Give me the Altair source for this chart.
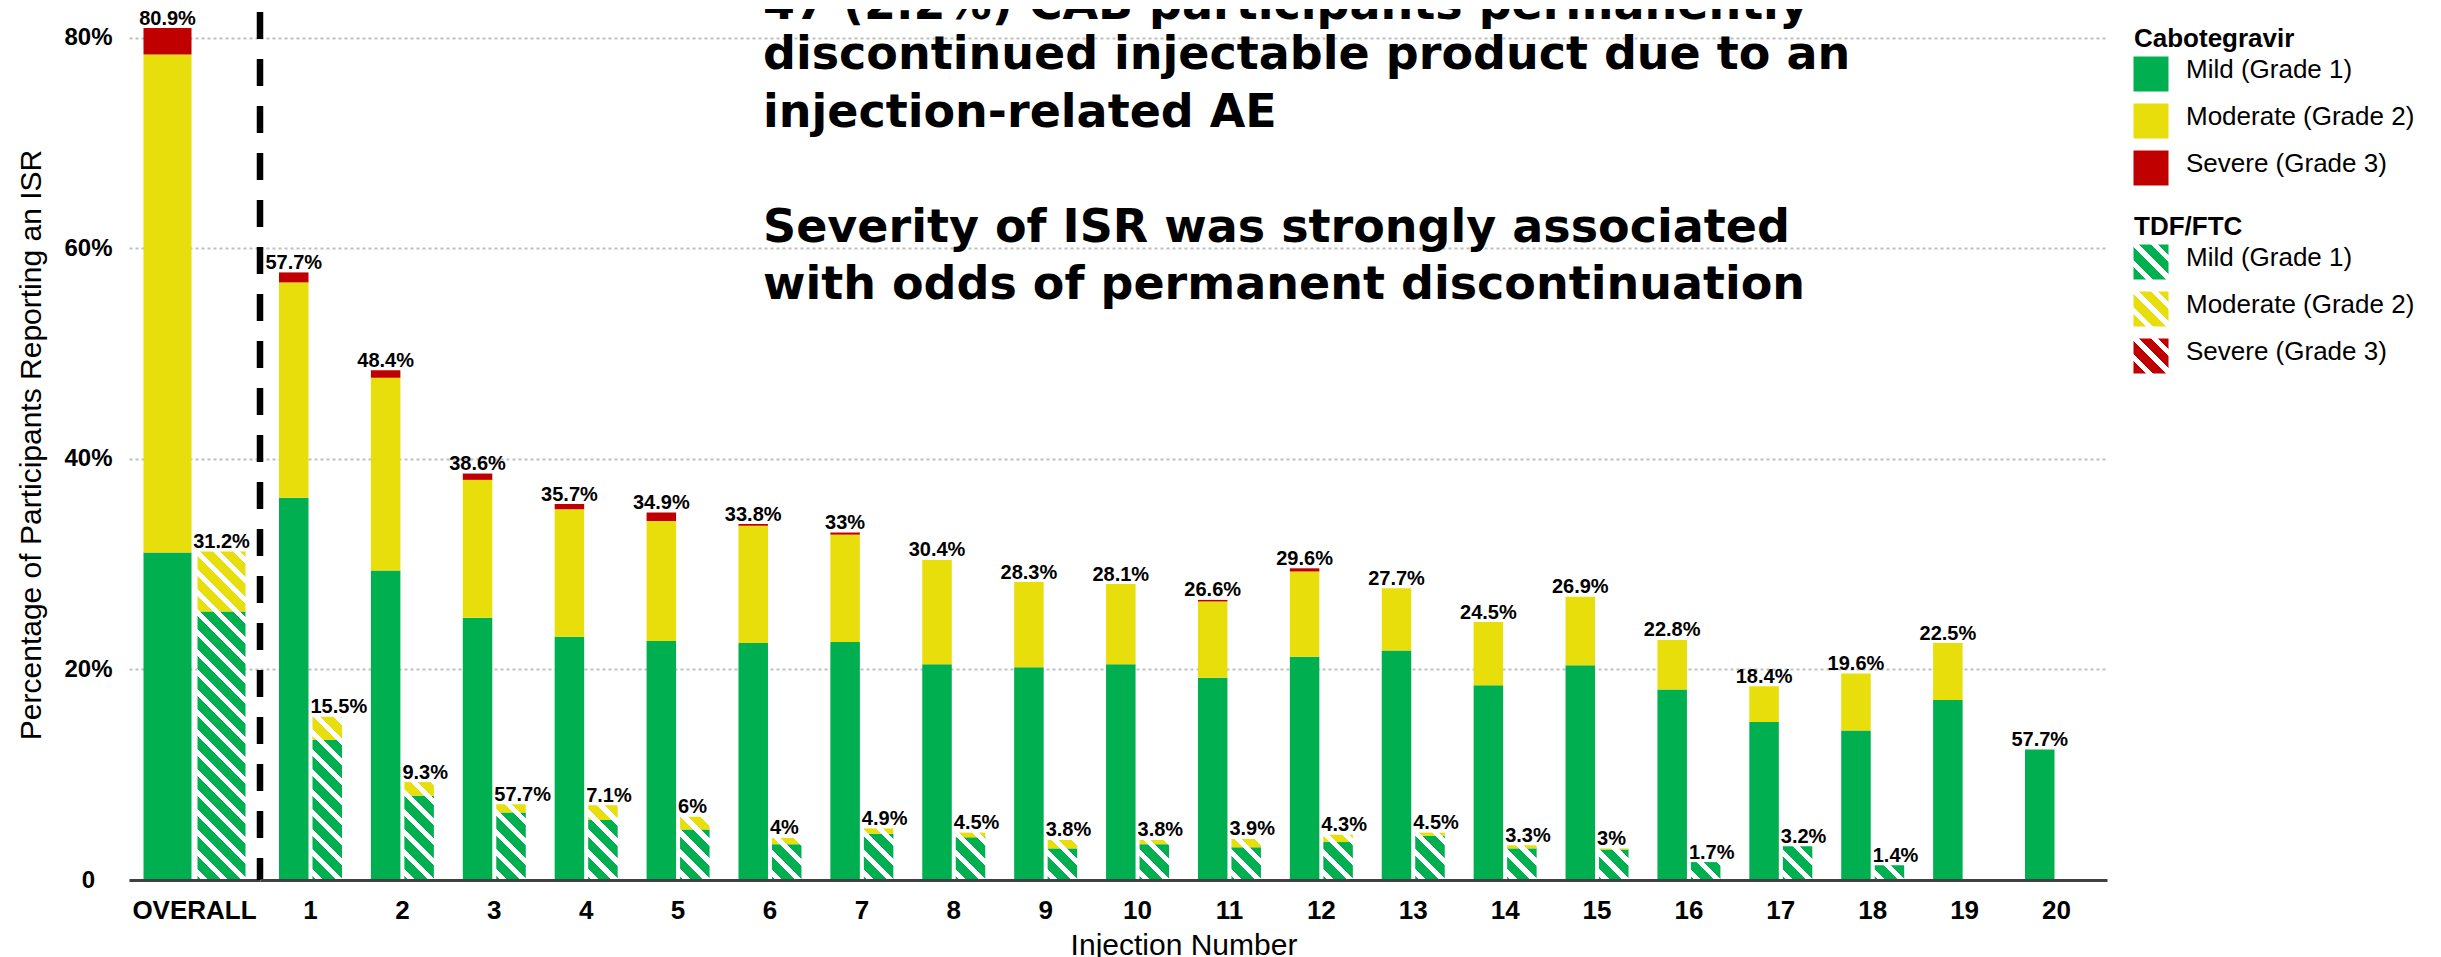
import altair as alt

# ---------------- data ----------------
categories = ["OVERALL", "1", "2", "3", "4", "5", "6", "7", "8", "9", "10",
              "11", "12", "13", "14", "15", "16", "17", "18", "19", "20"]

cab_mild = [31.1, 36.3, 29.4, 24.9, 23.1, 22.7, 22.5, 22.6, 20.5, 20.2, 20.5,
            19.2, 21.2, 21.8, 18.5, 20.4, 18.1, 15.0, 14.2, 17.1, 12.4]
cab_moderate = [47.3, 20.45, 18.3, 13.1, 12.1, 11.4, 11.15, 10.2, 9.9, 8.1, 7.6,
                7.25, 8.1, 5.9, 6.0, 6.5, 4.7, 3.4, 5.4, 5.4, 0.0]
cab_severe = [2.5, 0.95, 0.7, 0.6, 0.5, 0.8, 0.15, 0.2, 0.0, 0.0, 0.0,
              0.15, 0.3, 0.0, 0.0, 0.0, 0.0, 0.0, 0.0, 0.0, 0.0]

tdf_mild = [25.5, 13.3, 8.0, 6.4, 5.7, 4.8, 3.4, 4.4, 4.05, 3.0, 3.4,
            3.1, 3.6, 4.2, 3.0, 2.9, 1.7, 3.2, 1.4, 0.0, 0.0]
tdf_moderate = [5.7, 2.2, 1.3, 0.8, 1.4, 1.2, 0.6, 0.5, 0.45, 0.8, 0.4,
                0.8, 0.7, 0.3, 0.3, 0.1, 0.0, 0.0, 0.0, 0.0, 0.0]
tdf_severe = [0.0, 0.0, 0.0, 0.0, 0.0, 0.0, 0.0, 0.0, 0.0, 0.0, 0.0,
              0.0, 0.0, 0.0, 0.0, 0.0, 0.0, 0.0, 0.0, 0.0, 0.0]

cab_labels = ["80.9%", "57.7%", "48.4%", "38.6%", "35.7%", "34.9%", "33.8%", "33%",
              "30.4%", "28.3%", "28.1%", "26.6%", "29.6%", "27.7%", "24.5%", "26.9%",
              "22.8%", "18.4%", "19.6%", "22.5%", "57.7%"]
tdf_labels = ["31.2%", "15.5%", "9.3%", "57.7%", "7.1%", "6%", "4%", "4.9%",
              "4.5%", "3.8%", "3.8%", "3.9%", "4.3%", "4.5%", "3.3%", "3%",
              "1.7%", "3.2%", "1.4%", "", ""]

severity_names = ["Mild (Grade 1)", "Moderate (Grade 2)", "Severe (Grade 3)"]
drug_names = ["Cabotegravir", "TDF/FTC"]
y_ticks = [0, 20, 40, 60, 80]

y_title = "Percentage of Participants Reporting an ISR"
x_title = "Injection Number"
note_first = "47 (2.2%) CAB participants permanently"
note_para1 = ["discontinued injectable product due to an",
              "injection-related AE"]
note_para2 = ["Severity of ISR was strongly associated",
              "with odds of permanent discontinuation"]

# ---------------- style ----------------
FONT = "Liberation Sans"
GREEN, YELLOW, RED = "#00B050", "#E8DE0C", "#C00000"
SEV_COLORS = [GREEN, YELLOW, RED]
GRID = dict(gridColor="#c0c0c0", gridDash=[3, 3], gridWidth=2)

PLOT_H = 871
PX = 10.53
Y_MAX = PLOT_H / PX
LEFT_W = 131
RIGHT_W = 1847
LEG_W = 320
NOTE_LH = 57.5

L_PO = 0.142
L_OFF_PI = 0.111
R_PI = 0.3145
R_PO = 0.2067
R_OFF_PI = 0.119

left_band = LEFT_W / (1 + 2 * L_PO)
left_bar = left_band / (2 - L_OFF_PI) * (1 - L_OFF_PI)
right_step = RIGHT_W / (20 - R_PI + 2 * R_PO)
right_band = right_step * (1 - R_PI)
right_bar = right_band / (2 - R_OFF_PI) * (1 - R_OFF_PI)

PERIOD = 20.0
WHITE_FRAC = 0.36


def hatch(color, w, h, phase0):
    """Diagonal stripes as a hard-stop linear gradient sized to a w x h box."""
    L = w + h
    a = L / (w * w + h * h)
    g_len = PERIOD * (1 - WHITE_FRAC)
    ph = phase0 % PERIOD
    cur = color if ph < g_len else "#ffffff"
    stops = [{"offset": 0.0, "color": cur}]
    d = 0.0
    while True:
        if ph < g_len:
            step, nxt, ph_next = g_len - ph, "#ffffff", g_len
        else:
            step, nxt, ph_next = PERIOD - ph, color, 0.0
        d += step
        if d >= L - 1e-9:
            break
        o = round(d / L, 5)
        stops.append({"offset": o, "color": cur})
        stops.append({"offset": o, "color": nxt})
        cur, ph = nxt, ph_next
    stops.append({"offset": 1.0, "color": cur})
    return {"gradient": "linear", "x1": 0, "y1": 1,
            "x2": round(a * w, 6), "y2": round(1 - a * h, 6), "stops": stops}


def bar_records(indices, bar_w):
    recs = []
    for i in indices:
        for drug, series in (("CAB", (cab_mild, cab_moderate, cab_severe)),
                             ("TDF", (tdf_mild, tdf_moderate, tdf_severe))):
            base = 0.0
            for sev, vals, color in zip(severity_names, series, SEV_COLORS):
                v = vals[i]
                if v <= 0:
                    continue
                top = base + v
                if drug == "CAB":
                    fill = color
                else:
                    fill = hatch(color, bar_w, v * PX, -(Y_MAX - base) * PX)
                recs.append({"cat": categories[i], "drug": drug, "sev": sev,
                             "start": base, "end": top, "fill": fill})
                base = top
    return recs


def label_records(indices, drug):
    recs = []
    for i in indices:
        if drug == "CAB":
            total = cab_mild[i] + cab_moderate[i] + cab_severe[i]
            lab = cab_labels[i]
        else:
            total = tdf_mild[i] + tdf_moderate[i] + tdf_severe[i]
            lab = tdf_labels[i]
        if lab:
            recs.append({"cat": categories[i], "drug": drug, "total": total, "label": lab})
    return recs


y_scale = alt.Scale(domain=[0, Y_MAX], nice=False, zero=True)

x_axis_common = dict(labelAngle=0, labelFontSize=26, labelFontWeight="bold",
                     labelColor="black", labelPadding=17, ticks=False,
                     domainColor="#404040", domainWidth=3, grid=False, zindex=1)

y_axis_left = alt.Axis(values=y_ticks,
                       labelExpr="datum.value == 0 ? '0' : datum.value + '%'",
                       labelAlign="center", labelPadding=41, labelFontSize=24,
                       labelFontWeight="bold", labelColor="black", ticks=False,
                       domain=False, grid=True, title=y_title, titleFontSize=30,
                       titleFontWeight="normal", titleColor="black", titlePadding=17,
                       **GRID)
y_axis_right = alt.Axis(values=y_ticks, labels=False, ticks=False, domain=False,
                        grid=True, title=None, **GRID)


def build_panel(indices, width, x_scale, off_scale, x_axis, y_axis, bar_w,
                tdf_align, tdf_dx, extra=()):
    X = alt.X("cat:N", scale=x_scale, axis=x_axis)
    XO = alt.XOffset("drug:N", scale=off_scale)
    bars = alt.Chart(alt.Data(values=bar_records(indices, bar_w))).mark_bar().encode(
        x=X, xOffset=XO,
        y=alt.Y("start:Q", scale=y_scale, axis=y_axis),
        y2="end:Q",
        fill=alt.Fill("fill:N", scale=None),
    )
    txt = dict(font=FONT, fontSize=20, fontWeight="bold", color="black",
               baseline="alphabetic", dy=-3.5)
    cab_t = alt.Chart(alt.Data(values=label_records(indices, "CAB"))).mark_text(
        align="center", **txt).encode(
        x=X, xOffset=XO, y=alt.Y("total:Q", scale=y_scale, axis=y_axis),
        text="label:N")
    tdf_t = alt.Chart(alt.Data(values=label_records(indices, "TDF"))).mark_text(
        align=tdf_align, dx=tdf_dx, **txt).encode(
        x=X, xOffset=XO, y=alt.Y("total:Q", scale=y_scale, axis=y_axis),
        text="label:N")
    return alt.layer(bars, cab_t, tdf_t, *extra).properties(width=width, height=PLOT_H)


left = build_panel(
    [0], LEFT_W,
    alt.Scale(domain=categories[:1], paddingInner=0, paddingOuter=L_PO),
    alt.Scale(domain=["CAB", "TDF"], paddingInner=L_OFF_PI, paddingOuter=0),
    alt.Axis(title=None, **x_axis_common), y_axis_left, left_bar, "center", 0)

one = alt.Data(values=[{"k": 1}])
divider = alt.Chart(one).mark_rule(color="black", strokeWidth=6.5,
                                   strokeDash=[27, 20]).encode(
    x=alt.value(0), y=alt.value(3), y2=alt.value(PLOT_H))

note_style = dict(align="left", baseline="alphabetic", font="DejaVu Sans",
                  fontWeight="bold", fontSize=46, lineHeight=NOTE_LH,
                  color="black", clip=True)
note1 = alt.Chart(one).mark_text(text=note_first, **note_style).encode(
    x=alt.value(503), y=alt.datum((PLOT_H - 10) / PX))
note2 = alt.Chart(one).mark_text(text=note_para1, **note_style).encode(
    x=alt.value(503), y=alt.datum((PLOT_H - 60) / PX))
note3 = alt.Chart(one).mark_text(text=note_para2, **note_style).encode(
    x=alt.value(503), y=alt.datum((PLOT_H - 60 - 3 * NOTE_LH) / PX))

right = build_panel(
    list(range(1, 21)), RIGHT_W,
    alt.Scale(domain=categories[1:], paddingInner=R_PI, paddingOuter=R_PO),
    alt.Scale(domain=["CAB", "TDF"], paddingInner=R_OFF_PI, paddingOuter=0),
    alt.Axis(title=x_title, titleFontSize=30, titleFontWeight="normal",
             titleColor="black", titlePadding=7, **x_axis_common),
    y_axis_right, right_bar, "left", -(right_bar / 2 + 2),
    extra=(divider, note1, note2, note3))

# ---------------- legend panel ----------------
SW = 35
leg_titles = [{"row": 0.26, "text": drug_names[0]}, {"row": 4.25, "text": drug_names[1]}]
leg_items = []
for base_row, hatched in ((1, False), (5, True)):
    for k, (name, color) in enumerate(zip(severity_names, SEV_COLORS)):
        leg_items.append({"row": base_row + k, "label": name,
                          "fill": hatch(color, SW, SW, 0.0) if hatched else color})

leg_y = alt.Scale(domain=[-18 / 47, (PLOT_H - 18) / 47], reverse=True, nice=False, zero=False)
sw = alt.Chart(alt.Data(values=leg_items)).mark_square(size=SW * SW, opacity=1).encode(
    x=alt.value(44), y=alt.Y("row:Q", scale=leg_y, axis=None),
    fill=alt.Fill("fill:N", scale=None))
lab = alt.Chart(alt.Data(values=leg_items)).mark_text(
    align="left", baseline="middle", dy=-4, font=FONT, fontSize=26, color="black").encode(
    x=alt.value(79), y=alt.Y("row:Q", scale=leg_y, axis=None), text="label:N")
tit = alt.Chart(alt.Data(values=leg_titles)).mark_text(
    align="left", baseline="middle", font=FONT, fontSize=26, fontWeight="bold",
    color="black").encode(
    x=alt.value(27), y=alt.Y("row:Q", scale=leg_y, axis=None), text="text:N")
legend = alt.layer(sw, lab, tit).properties(width=LEG_W, height=PLOT_H)

chart = (
    alt.hconcat(left, right, legend, spacing=0, bounds="flush")
    .resolve_scale(x="independent", y="independent", xOffset="independent")
    .properties(padding={"left": 8, "top": 0, "right": 0, "bottom": 0})
    .configure(font=FONT)
    .configure_view(stroke=None)
)

chart.save("out.html", embed_options={"renderer": "svg", "actions": False})
